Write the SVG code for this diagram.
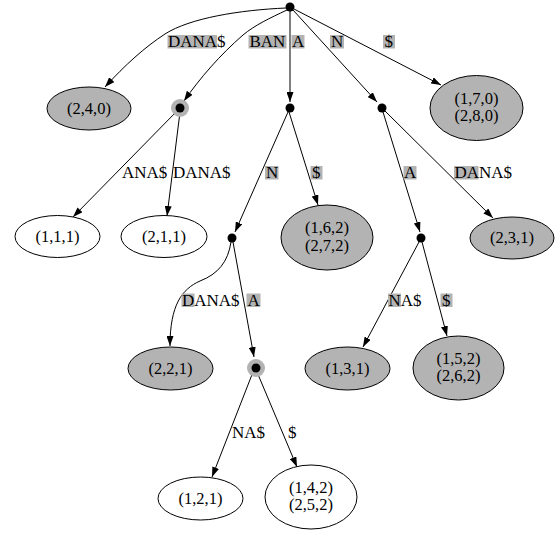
<svg xmlns="http://www.w3.org/2000/svg" width="556" height="533" viewBox="0 0 556 533">
<defs>
<style>
.e{fill:none;stroke:#000;stroke-width:1;marker-end:url(#arr)}
.g{fill:#b3b3b3;stroke:#000;stroke-width:1}
.w{fill:#fff;stroke:#000;stroke-width:1}
.pt{fill:#000}
.halo{fill:#b3b3b3}
.hl{fill:#b3b3b3}
.nt{font-family:"Liberation Serif","Times New Roman",serif;font-size:16.5px;text-anchor:middle;fill:#000}
.lt{font-family:"Liberation Serif","Times New Roman",serif;font-size:17px;fill:#000}
</style>
<marker id="arr" markerWidth="10" markerHeight="7" refX="10" refY="3.5" orient="auto" markerUnits="userSpaceOnUse"><path d="M0,0 L10,3.5 L0,7 z" fill="#000"/></marker>
</defs>
<rect width="556" height="533" fill="#fff"/>
<g id="connectors">
<path class="e" d="M286,8 C240,10 190,18 165,34 C145,47 125,65 105,87"/>
<path class="e" d="M287,10 C270,18 255,25 243,35 C220,55 200,78 184,101"/>
<path class="e" d="M290,11 L290,102"/>
<path class="e" d="M293,10 L377,102"/>
<path class="e" d="M294,9 L441,85"/>
<path class="e" d="M177,111 L73,217"/>
<path class="e" d="M180,112 L167,216"/>
<path class="e" d="M288,112 L235,232"/>
<path class="e" d="M289,112 L318,205"/>
<path class="e" d="M383,112 L420,232"/>
<path class="e" d="M385,111 L493,218"/>
<path class="e" d="M231,242 C228,262 218,274 200,281 C182,289 170,305 170,346"/>
<path class="e" d="M233,242 L254,357"/>
<path class="e" d="M419,242 L363,347"/>
<path class="e" d="M422,242 L447,336"/>
<path class="e" d="M253,372 L212,477"/>
<path class="e" d="M257,372 L297,467"/>
</g>
<g id="edge-labels">
<rect class="hl" x="167.5" y="35" width="49.5" height="13.5"/>
<text class="lt" x="168" y="47">DANA$</text>
<rect class="hl" x="248.5" y="35" width="38" height="13.5"/>
<text class="lt" x="249.5" y="47">BAN</text>
<rect class="hl" x="291.5" y="35" width="13" height="13.5"/>
<text class="lt" x="292" y="47">A</text>
<rect class="hl" x="330" y="35" width="14" height="13.5"/>
<text class="lt" x="331" y="47">N</text>
<rect class="hl" x="383" y="35" width="12" height="13.5"/>
<text class="lt" x="384.5" y="47">$</text>

<text class="lt" x="122" y="178">ANA$</text>
<text class="lt" x="173" y="178">DANA$</text>
<rect class="hl" x="265" y="166" width="13.5" height="13.5"/>
<text class="lt" x="266" y="178">N</text>
<rect class="hl" x="310.5" y="166" width="12" height="13.5"/>
<text class="lt" x="312" y="178">$</text>
<rect class="hl" x="403.5" y="166" width="13" height="13.5"/>
<text class="lt" x="404" y="178">A</text>
<rect class="hl" x="454" y="166" width="24.5" height="13.5"/>
<text class="lt" x="454.5" y="178">DANA$</text>

<rect class="hl" x="181.5" y="293.5" width="13" height="13.5"/>
<text class="lt" x="182" y="306">DANA$</text>
<rect class="hl" x="246.5" y="293.5" width="14" height="13.5"/>
<text class="lt" x="247.5" y="306">A</text>
<rect class="hl" x="388" y="293.5" width="13" height="13.5"/>
<text class="lt" x="388.5" y="306">NA$</text>
<rect class="hl" x="440.5" y="293.5" width="12" height="13.5"/>
<text class="lt" x="442" y="306">$</text>

<text class="lt" x="232" y="438">NA$</text>
<text class="lt" x="288" y="438">$</text>
</g>
<g id="root"><circle class="pt" cx="290" cy="7" r="4.5"/></g>
<g id="n-BAN"><circle class="halo" cx="180" cy="108" r="9"/><circle class="pt" cx="180" cy="108" r="4.5"/></g>
<g id="n-A"><circle class="pt" cx="290" cy="108" r="4.5"/></g>
<g id="n-N"><circle class="pt" cx="382" cy="108" r="4.5"/></g>
<g id="n-AN"><circle class="pt" cx="232" cy="238" r="4.5"/></g>
<g id="n-NA"><circle class="pt" cx="421" cy="238" r="4.5"/></g>
<g id="n-ANA"><circle class="halo" cx="256" cy="368" r="9"/><circle class="pt" cx="256" cy="368" r="4.5"/></g>
<g id="leaf-240"><ellipse class="g" cx="89" cy="108.5" rx="42" ry="21.5"/><text class="nt" x="89" y="113.5">(2,4,0)</text></g>
<g id="leaf-170"><ellipse class="g" cx="476.5" cy="108" rx="46.5" ry="32.5"/><text class="nt" x="476.5" y="103.5">(1,7,0)</text><text class="nt" x="476.5" y="121">(2,8,0)</text></g>
<g id="leaf-111"><ellipse class="w" cx="57.5" cy="236.5" rx="42.5" ry="21"/><text class="nt" x="57.5" y="241.5">(1,1,1)</text></g>
<g id="leaf-211"><ellipse class="w" cx="164" cy="236.5" rx="43" ry="21"/><text class="nt" x="164" y="241.5">(2,1,1)</text></g>
<g id="leaf-162"><ellipse class="g" cx="327" cy="237.5" rx="46" ry="32.5"/><text class="nt" x="327" y="233">(1,6,2)</text><text class="nt" x="327" y="250.5">(2,7,2)</text></g>
<g id="leaf-231"><ellipse class="g" cx="512" cy="238" rx="42" ry="21"/><text class="nt" x="512" y="243">(2,3,1)</text></g>
<g id="leaf-221"><ellipse class="g" cx="170.5" cy="368.5" rx="42.5" ry="21.5"/><text class="nt" x="170.5" y="373.5">(2,2,1)</text></g>
<g id="leaf-131"><ellipse class="g" cx="347.5" cy="368.5" rx="42.5" ry="21.5"/><text class="nt" x="347.5" y="373.5">(1,3,1)</text></g>
<g id="leaf-152"><ellipse class="g" cx="458.5" cy="368" rx="45.5" ry="32"/><text class="nt" x="458.5" y="363.5">(1,5,2)</text><text class="nt" x="458.5" y="381">(2,6,2)</text></g>
<g id="leaf-121"><ellipse class="w" cx="200.5" cy="498.5" rx="42.5" ry="21.5"/><text class="nt" x="200.5" y="503.5">(1,2,1)</text></g>
<g id="leaf-142"><ellipse class="w" cx="311" cy="497" rx="46" ry="32"/><text class="nt" x="311" y="492.5">(1,4,2)</text><text class="nt" x="311" y="510">(2,5,2)</text></g>
</svg>
